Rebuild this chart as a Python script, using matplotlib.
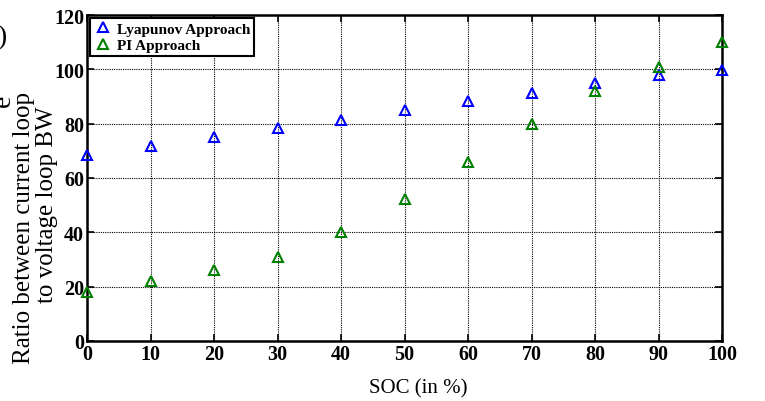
import numpy as np
import matplotlib
matplotlib.use("Agg")
import matplotlib.pyplot as plt

# SOC values (%)
soc = [0, 10, 20, 30, 40, 50, 60, 70, 80, 90, 100]
# ratio between current loop BW and voltage loop BW
lyapunov = [68.5, 71.8, 75.2, 78.4, 81.5, 84.9, 88.2, 91.4, 94.8, 98.0, 99.7]
pi_ratio = [18.2, 22.1, 26.0, 30.9, 40.0, 52.2, 66.0, 80.0, 92.0, 100.9, 110.0]

xticks = [0, 10, 20, 30, 40, 50, 60, 70, 80, 90, 100]
yticks = [0, 20, 40, 60, 80, 100, 120]

plt.rcParams['font.family'] = ['Liberation Serif', 'DejaVu Serif']

W, H = 765, 402
fig = plt.figure(figsize=(W/100, H/100), dpi=100)
ax = fig.add_axes([87/W, 1 - 342/H, (722-87)/W, (342-16)/H])

ax.plot(soc, lyapunov, linestyle='none', marker='^', markersize=7,
        markerfacecolor='none', markeredgecolor='#0000ff', markeredgewidth=1.5,
        label='Lyapunov Approach', clip_on=False, zorder=3)
ax.plot(soc, pi_ratio, linestyle='none', marker='^', markersize=7,
        markerfacecolor='none', markeredgecolor='#008000', markeredgewidth=1.5,
        label='PI Approach', clip_on=False, zorder=3)

ax.set_xlim(0, 100)
ax.set_ylim(0, 120)
ax.set_xticks(xticks)
ax.set_yticks(yticks)
ax.grid(True, color='black', linestyle=(0, (1, 1)), linewidth=0.8)
ax.tick_params(direction='in', length=5, width=1.2, top=True, right=True,
               labelsize=14.5, pad=2)
for lab in ax.get_xticklabels() + ax.get_yticklabels():
    lab.set_fontweight('bold')
for sp in ax.spines.values():
    sp.set_linewidth(1.8)

ax.set_xlabel('SOC (in %)', fontsize=15)
ax.xaxis.set_label_coords((418-87)/635, -(379-342)/326)

# y label, two lines placed like the original
fig.text(24/W, 1 - 228/H, 'Ratio between current loop', fontsize=18,
         rotation=90, ha='center', va='center')
fig.text(47/W, 1 - 205/H, 'to voltage loop BW', fontsize=18,
         rotation=90, ha='center', va='center')

leg = ax.legend(loc='upper left', prop={'weight': 'bold', 'size': 11},
                fancybox=False, edgecolor='black', framealpha=1,
                borderaxespad=0.2, handletextpad=0.3, handlelength=1.2,
                borderpad=0.25, labelspacing=0.2)
leg.get_frame().set_linewidth(1.5)

# fragments of neighbouring figure at the left edge
fig.text(-0.004, 1 - 38/H, ')', fontsize=20, va='center', ha='left')
fig.text(-9/W, 1 - 101/H, 'e', fontsize=20, rotation=90, va='center', ha='left')

fig.savefig('out.png', dpi=100)
